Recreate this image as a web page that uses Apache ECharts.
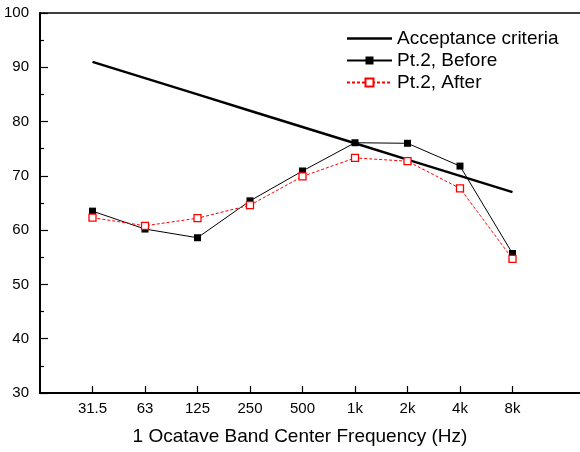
<!DOCTYPE html>
<html>
<head>
<meta charset="utf-8">
<script src="https://cdn.jsdelivr.net/npm/echarts@6/dist/echarts.min.js"></script>
<style>html,body{margin:0;padding:0;background:#fff}#c{width:580px;height:452px}</style>
</head>
<body>
<div id="c"></div>
<script>
const categories = ['31.5', '63', '125', '250', '500', '1k', '2k', '4k', '8k'];
const acceptance = [91, 88, 85, 82, 79, 76, 73, 70, 67];
const before = [63.5, 60.2, 58.6, 65.4, 70.9, 76.1, 76.0, 71.8, 55.7];
const after = [62.3, 60.8, 62.2, 64.6, 69.9, 73.3, 72.7, 67.7, 54.7];
const yTicks = [30, 40, 50, 60, 70, 80, 90, 100];

const FONT = 'Liberation Sans, Arial, sans-serif';
const pos = categories.map((c, i) => i + 1);
const toPairs = arr => arr.map((v, i) => [i + 1, v]);
const XMAX = 540 / 52.5;

const chart = echarts.init(document.getElementById('c'));
chart.setOption({
  animation: false,
  backgroundColor: '#fff',
  grid: { left: 40, top: 13, right: 0, bottom: 59 },
  legend: {
    top: 24, left: 341, orient: 'vertical',
    itemWidth: 45, itemHeight: 10, itemGap: 3,
    textStyle: { fontFamily: FONT, fontSize: 19, color: '#000' },
    data: [
      { name: 'Acceptance criteria', icon: 'path://M0,0 L45,0 L45,2.5 L0,2.5 Z' },
      'Pt.2, Before', 'Pt.2, After'
    ]
  },
  xAxis: [{
    type: 'value', min: 0, max: XMAX,
    axisLine: { lineStyle: { color: '#000', width: 2 } },
    axisTick: { inside: true, length: 7, customValues: pos, lineStyle: { color: '#000', width: 1.2 } },
    axisLabel: { customValues: pos, margin: 8, fontFamily: FONT, fontSize: 15, color: '#000',
      formatter: v => categories[Math.round(v) - 1] || '' },
    splitLine: { show: false },
    name: '1 Ocatave Band Center Frequency (Hz)', nameLocation: 'middle', nameGap: 34,
    nameTextStyle: { fontFamily: FONT, fontSize: 19, color: '#000', padding: [0, 20, 0, 0] }
  }, {
    type: 'value', position: 'top', min: 0, max: XMAX,
    axisLine: { show: true, lineStyle: { color: '#000', width: 1.5 } },
    axisTick: { show: false }, axisLabel: { show: false }, splitLine: { show: false }
  }],
  yAxis: {
    type: 'value', min: yTicks[0], max: yTicks[yTicks.length - 1], interval: 10,
    axisLine: { show: true, lineStyle: { color: '#000', width: 2 } },
    axisTick: { inside: true, length: 8, lineStyle: { color: '#000', width: 1.2 } },
    minorTick: { show: true, splitNumber: 2, length: 4, lineStyle: { color: '#000', width: 1.2 } },
    axisLabel: { margin: 11, fontFamily: FONT, fontSize: 15, color: '#000' },
    splitLine: { show: false }
  },
  series: [
    { name: 'Acceptance criteria', type: 'line', data: toPairs(acceptance), symbol: 'none',
      lineStyle: { color: '#000', width: 2.5 }, itemStyle: { color: '#000' } },
    { name: 'Pt.2, Before', type: 'line', data: toPairs(before), symbol: 'rect', symbolSize: 7,
      lineStyle: { color: '#000', width: 1 }, itemStyle: { color: '#000' } },
    { name: 'Pt.2, After', type: 'line', data: toPairs(after), symbol: 'rect', symbolSize: 7,
      lineStyle: { color: '#ff0000', width: 1, type: [3, 2] },
      itemStyle: { color: '#fff', borderColor: '#ff0000', borderWidth: 1.3 } }
  ]
});
</script>
</body>
</html>
